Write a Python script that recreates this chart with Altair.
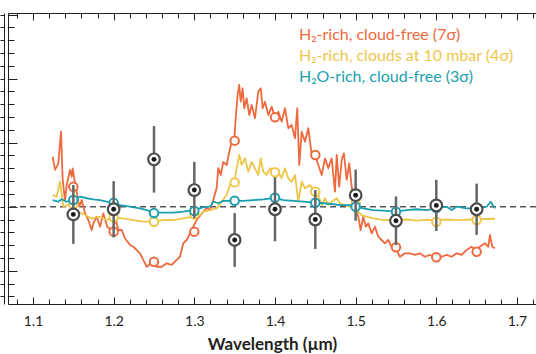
import altair as alt
import pandas as pd

# ---------------- data ----------------
bin_wl = [1.15, 1.20, 1.25, 1.30, 1.35, 1.40, 1.45, 1.50, 1.55, 1.60, 1.65]
obs_val = [-0.6, -0.2, 3.7, 1.3, -2.6, -0.2, -1.0, 0.9, -1.1, 0.1, -0.2]
obs_err = [2.3, 2.2, 2.6, 2.2, 2.1, 2.5, 2.3, 2.0, 1.9, 2.0, 2.0]

red_bin = [1.56, -1.95, -4.30, -1.95, 5.16, 6.98, 4.04, 0.9, -3.17, -3.95, -3.52]
yel_bin = [0.2, -0.83, -1.17, -0.6, 1.9, 2.69, 1.17, 0.3, -1.04, -1.17, -1.04]
teal_bin = [0.52, 0.3, -0.5, -0.34, 0.47, 0.70, 0.31, 0.0, -0.39, -0.1, -0.1]

red_wl = [1.1244, 1.1273, 1.1314, 1.1347, 1.1368, 1.1397, 1.1418, 1.1459, 1.1480, 1.1492,
          1.1521, 1.1542, 1.1574, 1.1604, 1.1645, 1.1686, 1.1728, 1.1748, 1.1790, 1.1831,
          1.1871, 1.1921, 1.1976, 1.2029, 1.2057, 1.2100, 1.2140, 1.2202, 1.2243, 1.2285,
          1.2326, 1.2367, 1.2409, 1.2471, 1.2533, 1.2595, 1.2657, 1.2719, 1.2781, 1.2822,
          1.2863, 1.2905, 1.2946, 1.2987, 1.3029, 1.3070, 1.3111, 1.3153, 1.3194, 1.3235,
          1.3277, 1.3297, 1.3327, 1.3359, 1.3401, 1.3433, 1.3463, 1.3495, 1.3516, 1.3537,
          1.3557, 1.3575, 1.3599, 1.3619, 1.3649, 1.3681, 1.3711, 1.3752, 1.3793, 1.3823,
          1.3847, 1.3876, 1.3917, 1.3959, 1.4000, 1.4041, 1.4083, 1.4124, 1.4165, 1.4207,
          1.4248, 1.4276, 1.4301, 1.4331, 1.4372, 1.4413, 1.4455, 1.4496, 1.4537, 1.4579,
          1.4620, 1.4661, 1.4703, 1.4744, 1.4765, 1.4796, 1.4827, 1.4855, 1.4889, 1.4921,
          1.4951, 1.4992, 1.5033, 1.5062, 1.5094, 1.5128, 1.5156, 1.5199, 1.5240, 1.5280,
          1.5322, 1.5363, 1.5404, 1.5446, 1.5487, 1.5549, 1.5611, 1.5673, 1.5735, 1.5797,
          1.5859, 1.5921, 1.5995, 1.6066, 1.6128, 1.6190, 1.6252, 1.6314, 1.6376, 1.6438,
          1.6491, 1.6541, 1.6603, 1.6644, 1.6665, 1.6694, 1.6727]
red_val = [3.91, 2.87, 3.39, 5.86, 2.09, 0.52, 1.70, 2.87, 2.34, 3.0,
           1.83, 1.17, 0.0, 0.52, -0.52, -1.04, -1.82, -1.30, -0.78, -1.56,
           -0.52, -1.56, -1.82, -1.04, -1.82, -1.82, -2.47, -2.99, -3.13, -3.38,
           -3.64, -4.16, -4.69, -4.42, -4.69, -4.69, -4.42, -4.55, -4.16, -3.91,
           -2.86, -2.60, -2.08, -1.56, -1.04, -0.73, -0.41, -0.10, -0.26, 0.52,
           1.46, 3.02, 2.48, 3.49, 3.26, 4.27, 5.05, 5.16, 7.16, 8.73,
           9.51, 8.20, 9.25, 7.69, 8.47, 7.16, 7.95, 6.91, 8.98, 9.25,
           7.69, 8.20, 7.16, 7.81, 6.98, 7.42, 6.64, 7.69, 6.13, 6.38,
           5.34, 7.69, 3.26, 5.86, 5.08, 6.13, 4.04, 4.04, 3.26, 2.48,
           3.78, 3.0, 3.78, 1.17, 4.04, 1.56, 3.65, 4.17, 2.09, 3.39,
           1.56, 0.0, -0.78, -1.82, -0.78, -1.56, -1.30, -2.08, -1.56, -2.34,
           -2.60, -2.86, -2.60, -3.13, -3.17, -3.91, -3.64, -3.64, -3.77, -3.64,
           -3.91, -3.77, -3.95, -3.91, -3.77, -3.91, -3.64, -3.77, -3.38, -3.13,
           -3.38, -3.13, -2.86, -3.13, -2.21, -3.13, -3.25]

yel_wl = [1.1244, 1.1294, 1.1335, 1.1376, 1.1438, 1.1500, 1.1562, 1.1645, 1.1728, 1.1831,
          1.1914, 1.1995, 1.2119, 1.2243, 1.2367, 1.2500, 1.2615, 1.2739, 1.2863, 1.2987,
          1.3070, 1.3111, 1.3194, 1.3277, 1.3339, 1.3401, 1.3442, 1.3495, 1.3525, 1.3557,
          1.3587, 1.3628, 1.3669, 1.3711, 1.3752, 1.3793, 1.3823, 1.3855, 1.3897, 1.3938,
          1.4000, 1.4041, 1.4083, 1.4124, 1.4165, 1.4207, 1.4248, 1.4289, 1.4331, 1.4372,
          1.4434, 1.4496, 1.4537, 1.4579, 1.4620, 1.4661, 1.4703, 1.4765, 1.4806, 1.4868,
          1.4930, 1.5013, 1.5075, 1.5137, 1.5220, 1.5343, 1.5500, 1.5632, 1.5756, 1.5880,
          1.5995, 1.6128, 1.6252, 1.6376, 1.6491, 1.6624, 1.6727]
yel_val = [0.91, 0.78, 1.95, 0.0, 0.13, -0.13, -0.39, -0.65, -0.91, -0.78,
           -1.04, -0.88, -0.91, -1.04, -1.17, -1.17, -1.04, -1.04, -0.91, -0.78,
           -0.65, -0.39, -0.26, -0.13, 0.39, 0.91, 1.70, 1.91, 3.0, 4.04,
           3.26, 3.78, 2.73, 3.52, 3.0, 2.48, 3.78, 2.73, 2.48, 3.0,
           2.69, 2.73, 2.22, 3.0, 2.22, 1.95, 2.48, 0.39, 1.95, 1.44,
           1.70, 1.17, 0.91, 0.13, 0.66, 0.13, 0.39, 0.66, 0.27, 0.13,
           0.0, -0.26, -0.65, -0.78, -0.91, -1.04, -1.04, -1.0, -1.08, -1.02,
           -1.06, -1.0, -1.05, -1.02, -0.98, -0.96, -0.94]

teal_wl = [1.1244, 1.1314, 1.1356, 1.1418, 1.1500, 1.1583, 1.1666, 1.1748, 1.1831, 1.1914,
           1.1995, 1.2079, 1.2202, 1.2326, 1.2409, 1.2500, 1.2615, 1.2739, 1.2863, 1.2987,
           1.3111, 1.3194, 1.3235, 1.3297, 1.3359, 1.3495, 1.3607, 1.3731, 1.3855, 1.4000,
           1.4103, 1.4227, 1.4351, 1.4496, 1.4599, 1.4723, 1.4806, 1.4930, 1.5004, 1.5094,
           1.5218, 1.5342, 1.5500, 1.5632, 1.5756, 1.5880, 1.5995, 1.6128, 1.6190, 1.6252,
           1.6376, 1.6491, 1.6624, 1.6674, 1.6727]
teal_val = [0.52, 0.39, 0.58, 0.39, 0.52, 0.78, 0.66, 0.58, 0.52, 0.39,
            0.27, 0.13, 0.0, -0.13, -0.26, -0.45, -0.47, -0.47, -0.39, -0.26,
            -0.05, 0.0, 0.39, 0.27, 0.45, 0.47, 0.45, 0.52, 0.58, 0.70,
            0.52, 0.45, 0.39, 0.31, 0.27, 0.19, 0.13, 0.13, 0.0, -0.13,
            -0.26, -0.31, -0.39, -0.26, -0.20, -0.26, -0.13, 0.0, -0.26, 0.0,
            -0.13, -0.13, 0.0, 0.39, -0.13]

series_names = ["H₂-rich, cloud-free (7σ)",
                "H₂-rich, clouds at 10 mbar (4σ)",
                "H₂O-rich, cloud-free (3σ)"]
series_colors = ["#EE6A3E", "#EDC64A", "#1C9FAF"]

x_tick_values = [1.08, 1.10, 1.12, 1.14, 1.16, 1.18, 1.20, 1.22, 1.24, 1.26, 1.28, 1.30,
                 1.32, 1.34, 1.36, 1.38, 1.40, 1.42, 1.44, 1.46, 1.48, 1.50, 1.52, 1.54,
                 1.56, 1.58, 1.60, 1.62, 1.64, 1.66, 1.68, 1.70, 1.72]
y_tick_values = [-7, -6, -5, -4, -3, -2, -1, 0, 1, 2, 3, 4, 5, 6, 7, 8, 9, 10, 11, 12, 13, 14, 15]

# ---------------- build tables ----------------
spec_df = pd.concat([
    pd.DataFrame({"wl": red_wl, "val": red_val, "series": series_names[0], "o": 0}),
    pd.DataFrame({"wl": yel_wl, "val": yel_val, "series": series_names[1], "o": 1}),
    pd.DataFrame({"wl": teal_wl, "val": teal_val, "series": series_names[2], "o": 2}),
], ignore_index=True)
bins_df = pd.concat([
    pd.DataFrame({"wl": bin_wl, "val": red_bin, "series": series_names[0]}),
    pd.DataFrame({"wl": bin_wl, "val": yel_bin, "series": series_names[1]}),
    pd.DataFrame({"wl": bin_wl, "val": teal_bin, "series": series_names[2]}),
], ignore_index=True)
obs_df = pd.DataFrame({"wl": bin_wl, "val": obs_val,
                       "lo": [v - e for v, e in zip(obs_val, obs_err)],
                       "hi": [v + e for v, e in zip(obs_val, obs_err)]})

INK = "#231F20"
FONT = "Lato"
xscale = alt.Scale(domain=[1.069, 1.7236], nice=False, zero=False)
yscale = alt.Scale(domain=[-7.6, 15.13], nice=False, zero=False)
col_scale = alt.Scale(domain=series_names, range=series_colors)

major_x = "abs(datum.value*10 - round(datum.value*10)) < 0.001"

common = dict(domainColor=INK, domainWidth=1, tickColor=INK, tickWidth=1, grid=False)

x_bottom = alt.Axis(orient="bottom", values=x_tick_values,
                    tickSize={"expr": f"{major_x} ? -7 : -5"},
                    labelExpr=f"{major_x} ? format(datum.value, '.1f') : ''",
                    labelFont=FONT, labelFontSize=14, labelColor=INK, labelPadding=17,
                    labelFlush=False, labelOverlap=False,
                    title="Wavelength (µm)", titleFont=FONT, titleFontSize=17,
                    titleFontWeight="bold", titleColor=INK, titlePadding=6, **common)
x_top = alt.Axis(orient="top", values=x_tick_values,
                 tickSize={"expr": f"{major_x} ? -7 : -5"},
                 labels=False, title=None, **common)
y_left = alt.Axis(orient="left", values=y_tick_values,
                  tickSize={"expr": "abs(datum.value % 5) < 0.01 ? -9 : -6"},
                  labels=False, title=None, **common)
y_prev = alt.Axis(orient="left", values=y_tick_values, offset=4, tickSize=4,
                  labels=False, title=None, **common)

base_spec = alt.Chart(spec_df)

lines = base_spec.mark_line(strokeWidth=1.8, strokeJoin="round").encode(
    x=alt.X("wl:Q", scale=xscale, axis=x_bottom),
    y=alt.Y("val:Q", scale=yscale, axis=y_left),
    color=alt.Color("series:N", scale=col_scale, legend=None),
    detail="series:N",
    order="o:Q",
)

top_axis_layer = alt.Chart(obs_df).mark_point(opacity=0).encode(
    x=alt.X("wl:Q", scale=xscale, axis=x_top),
    y=alt.Y("val:Q", scale=yscale, axis=None),
)

zero = alt.Chart(pd.DataFrame({"z": [0]})).mark_rule(
    strokeDash=[6, 4], color="#555555", strokeWidth=1.5).encode(
    y=alt.Y("z:Q", scale=yscale, axis=y_prev))

bins = alt.Chart(bins_df).mark_point(shape="circle", filled=False, fill="white",
                                     fillOpacity=1, strokeWidth=2, size=72, opacity=1).encode(
    x=alt.X("wl:Q", scale=xscale, axis=None),
    y=alt.Y("val:Q", scale=yscale, axis=None),
    stroke=alt.Stroke("series:N", scale=col_scale, legend=None),
)

bars = alt.Chart(obs_df).mark_rule(color="#666666", strokeWidth=2.5).encode(
    x=alt.X("wl:Q", scale=xscale, axis=None),
    y=alt.Y("lo:Q", scale=yscale, axis=None),
    y2="hi:Q",
)

rings = alt.Chart(obs_df).mark_point(shape="circle", filled=False, fill="white",
                                     fillOpacity=1, stroke="#4D4D4D", strokeWidth=2.2,
                                     size=135, opacity=1).encode(
    x=alt.X("wl:Q", scale=xscale, axis=None),
    y=alt.Y("val:Q", scale=yscale, axis=None),
)
dots = alt.Chart(obs_df).mark_circle(color="#1A1A1A", size=24, opacity=1).encode(
    x=alt.X("wl:Q", scale=xscale, axis=None),
    y=alt.Y("val:Q", scale=yscale, axis=None),
)

legend_layers = []
for i, (name, col) in enumerate(zip(series_names, series_colors)):
    legend_layers.append(
        alt.Chart(pd.DataFrame({"t": [name]})).mark_text(
            align="left", baseline="middle", font=FONT, fontSize=16, color=col).encode(
            x=alt.value(291), y=alt.value(22 + 21 * i), text="t:N")
    )

chart = alt.layer(zero, lines, top_axis_layer, bins, bars, rings, dots, *legend_layers).resolve_axis(
    x="independent", y="independent"
).properties(
    width=528, height=291,
    autosize=alt.AutoSizeParams(type="none"),
    padding={"left": 8, "top": 13, "right": 0, "bottom": 50},
    background="white",
).configure_view(stroke=None)

chart.save("out.html", embed_options={"renderer": "svg", "actions": False})
